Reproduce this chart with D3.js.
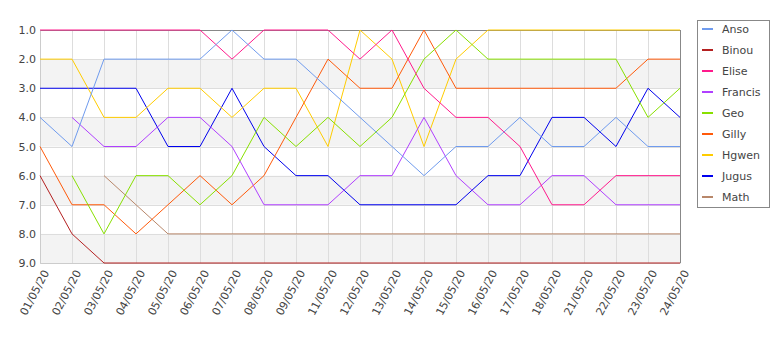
<!DOCTYPE html>
<html>
<head>
<meta charset="utf-8">
<script src="https://cdn.jsdelivr.net/npm/d3@7"></script>
<style>
body { margin: 0; background: #fff; }
text { font-family: "DejaVu Sans", sans-serif; fill: #444; }
</style>
</head>
<body>
<div id="graph"></div>
<script>
// dates on the x axis (categorical)
var dates = ["01/05/20","02/05/20","03/05/20","04/05/20","05/05/20","06/05/20","07/05/20",
  "08/05/20","09/05/20","11/05/20","12/05/20","13/05/20","14/05/20","15/05/20","16/05/20",
  "17/05/20","18/05/20","21/05/20","22/05/20","23/05/20","24/05/20"];

var names = ["Anso","Binou","Elise","Francis","Geo","Gilly","Hgwen","Jugus","Math"];
var colors = ["#6f9bee","#b42020","#ff1a8c","#b040ff","#88e000","#ff5a0a","#ffcc00","#0000ee","#b8876a"];

var anso    = [4,5,2,2,2,2,1,2,2,3,4,5,6,5,5,4,5,5,4,5,5];
var binou   = [6,8,9,9,9,9,9,9,9,9,9,9,9,9,9,9,9,9,9,9,9];
var elise   = [1,1,1,1,1,1,2,1,1,1,2,1,3,4,4,5,7,7,6,6,6];
var francis = [null,4,5,5,4,4,5,7,7,7,6,6,4,6,7,7,6,6,7,7,7];
var geo     = [null,6,8,6,6,7,6,4,5,4,5,4,2,1,2,2,2,2,2,4,3];
var gilly   = [5,7,7,8,7,6,7,6,4,2,3,3,1,3,3,3,3,3,3,2,2];
var hgwen   = [2,2,4,4,3,3,4,3,3,5,1,2,5,2,1,1,1,1,1,1,1];
var jugus   = [3,3,3,3,5,5,3,5,6,6,7,7,7,7,6,6,4,4,5,3,4];
var math    = [null,null,6,7,8,8,8,8,8,8,8,8,8,8,8,8,8,8,8,8,8];

var series = [anso, binou, elise, francis, geo, gilly, hgwen, jugus, math];
var yTicks = [1,2,3,4,5,6,7,8,9];

var m = [30, 100, 87, 40]; // top right bottom left
var W = 780, H = 350;
var w = W - m[1] - m[3];
var h = H - m[0] - m[2];

var x = d3.scalePoint().domain(dates).range([0, w]);
var y = d3.scaleLinear().domain([1, 9]).range([0, h]);

var svg = d3.select("#graph").append("svg")
  .attr("width", W).attr("height", H);
var g = svg.append("g").attr("transform", "translate(" + m[3] + "," + m[0] + ")");

// alternating bands
[2,4,6,8].forEach(function(v) {
  g.append("rect")
    .attr("x", 0).attr("width", w)
    .attr("y", y(v)).attr("height", y(v + 1) - y(v))
    .attr("fill", "#f3f3f3");
});

// grid
g.selectAll(".hg").data(yTicks).enter().append("line")
  .attr("x1", 0).attr("x2", w)
  .attr("y1", function(d) { return Math.round(y(d)) + 0.5; })
  .attr("y2", function(d) { return Math.round(y(d)) + 0.5; })
  .attr("stroke", "#dddddd");
g.selectAll(".vg").data(dates).enter().append("line")
  .attr("x1", function(d) { return x(d) + 0.5; })
  .attr("x2", function(d) { return x(d) + 0.5; })
  .attr("y1", 0).attr("y2", h)
  .attr("stroke", "#dddddd");

// frame
g.append("line").attr("x1", 0).attr("x2", w).attr("y1", 0.5).attr("y2", 0.5).attr("stroke", "#888");
g.append("line").attr("x1", w + 0.5).attr("x2", w + 0.5).attr("y1", 0).attr("y2", h).attr("stroke", "#888");

// axes
var yAxis = d3.axisLeft(y).tickValues(yTicks).tickFormat(d3.format(".1f")).tickSize(0).tickPadding(4);
var ya = g.append("g").call(yAxis);
ya.select(".domain").attr("stroke", "#ccc");
ya.selectAll("text").style("font-size", "11px").attr("fill", "#444");

var xAxis = d3.axisBottom(x).tickSize(0).tickPadding(4);
var xa = g.append("g").attr("transform", "translate(0," + h + ")").call(xAxis);
xa.select(".domain").attr("stroke", "#ccc");
xa.selectAll("text")
  .style("font-size", "11px").attr("fill", "#444")
  .attr("text-anchor", "end")
  .attr("dy", "0.35em")
  .attr("transform", "translate(2,6) rotate(-62)");

// lines
var line = d3.line()
  .defined(function(d) { return d != null; })
  .x(function(d, i) { return x(dates[i]); })
  .y(function(d) { return y(d); });

for (var j = series.length - 1; j >= 0; j--) {
  g.append("path")
    .attr("d", line(series[j]))
    .attr("fill", "none")
    .attr("stroke", colors[j])
    .attr("stroke-width", 1);
}

// legend
var lg = svg.append("g").attr("transform", "translate(697,20)");
lg.append("rect").attr("x", 0.5).attr("y", 0.5).attr("width", 72).attr("height", 187)
  .attr("fill", "#fff").attr("stroke", "#888");
names.forEach(function(n, i) {
  var yy = 9 + i * 21;
  lg.append("line").attr("x1", 5).attr("x2", 16).attr("y1", yy).attr("y2", yy)
    .attr("stroke", colors[i]).attr("stroke-width", 2);
  lg.append("text").attr("x", 25).attr("y", yy).attr("dy", "0.35em")
    .style("font-size", "11px").attr("fill", "#222").text(n);
});
</script>
</body>
</html>
